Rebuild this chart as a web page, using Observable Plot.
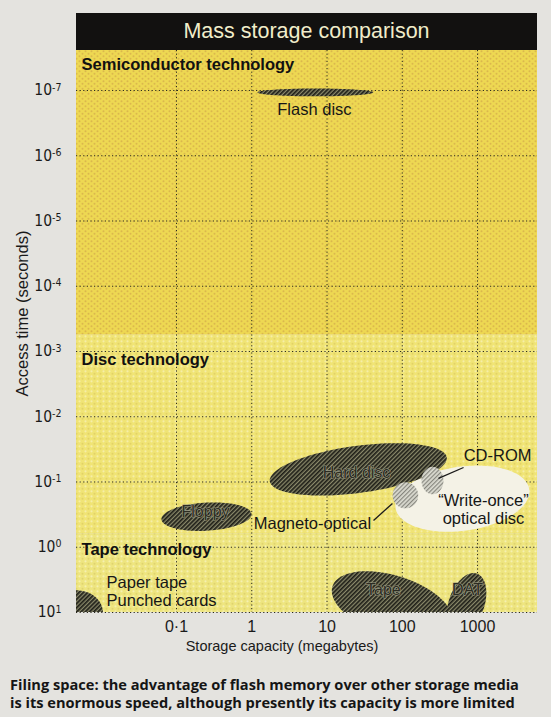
<!DOCTYPE html>
<html><head><meta charset="utf-8">
<script src="https://cdn.jsdelivr.net/npm/d3@7"></script>
<script src="https://cdn.jsdelivr.net/npm/@observablehq/plot@0.6"></script>
<style>
body{margin:0;background:#e4e3df;width:551px;height:717px;overflow:hidden;font-family:"Liberation Sans",Arial,sans-serif;}
#title{margin:13px 0 0 76px;width:461px;height:37px;background:#121110;color:#f1edca;font-size:21.5px;text-align:center;line-height:37px;}
#chart svg{display:block;}
#caption{margin:13px 0 0 10px;font-family:"Open Sans",sans-serif;font-weight:700;font-size:14.6px;line-height:18px;color:#151515;white-space:nowrap;}
</style></head>
<body>
<div id="title">Mass storage comparison</div>
<div id="chart"></div>
<div id="caption">Filing space: the advantage of flash memory over other storage media<br>is its enormous speed, although presently its capacity is more limited</div>
<script>
// ---- data ----
const capacityTicks = [0.1, 1, 10, 100, 1000];
const capacityTickLabels = ["0·1", "1", "10", "100", "1000"];
const timeTicks = [1e-7, 1e-6, 1e-5, 1e-4, 1e-3, 1e-2, 1e-1, 1e0, 1e1];
const timeTickLabels = ["10^-7", "10^-6", "10^-5", "10^-4", "10^-3", "10^-2", "10^-1", "10^0", "10^1"];

const bandNames = ["Semiconductor technology", "Disc technology", "Tape technology"];
const bandFast = [10 ** -7.613, 10 ** -3.25, 10 ** -0.2];
const bandSlow = [10 ** -3.25, 10 ** -0.2, 10];
const bandLabelAccess = [4.0e-8, 1.33e-3, 1.08];

const shapeNames = ["Write-once", "Hard disc", "Flash disc", "Floppy", "Tape", "DAT", "Paper tape", "CD-ROM", "Magneto-optical"];
const shapeCapacity = [630, 26, 7.0, 0.25, 74, 715, 0.0047, 252, 110];       // centre, MB
const shapeAccess = [0.18, 0.064, 1.07e-7, 0.34, 7.8, 7.3, 10, 0.095, 0.16]; // centre, s
const shapeCapSpan = [0.9, 1.19, 0.77, 0.60, 0.85, 0.24, 0.35, 0.146, 0.17]; // half-size, decades
const shapeTimeSpan = [0.49, 0.36, 0.06, 0.215, 0.45, 0.48, 0.34, 0.21, 0.2];
const shapeTilt = [10, 9, 0, 4, -22, -15, 0, 0, 0];                        // degrees
const shapeKind = ["white", "dark", "dark", "dark", "dark", "dark", "dark", "light", "light"];

const labelTexts = ["Flash disc", "CD-ROM", "“Write-once”\noptical disc", "Magneto-optical"];
const labelCapacity = [6.8, 1845, 1200, 6.4];
const labelAccess = [1.95e-7, 0.038, 0.259, 0.42];

const tapeNote = ["Paper tape\nPunched cards"];
const tapeNoteCapacity = [0.01175];
const tapeNoteAccess = [4.68];

const innerTexts = ["Hard disc", "Floppy", "Tape", "DAT"];
const innerCapacity = [24.7, 0.243, 56, 736];
const innerAccess = [0.0714, 0.283, 4.43, 4.43];

const pointerFromCap = [652, 41.5];
const pointerFromTime = [0.060, 0.389];
const pointerToCap = [303, 74];
const pointerToTime = [0.088, 0.213];

// ---- derived tables ----
const xDomain = [10 ** -2.329, 10 ** 3.797];
const yDomain = [10, 10 ** -7.613];
const bands = bandNames.map((name, i) => ({name, i, fast: bandFast[i], slow: bandSlow[i], label: bandLabelAccess[i]}));
const ellipsePts = [];
shapeNames.forEach((name, i) => {
  const cx = Math.log10(shapeCapacity[i]), cy = Math.log10(shapeAccess[i]);
  const a = shapeCapSpan[i], b = shapeTimeSpan[i], th = shapeTilt[i] * Math.PI / 180;
  for (let k = 0; k <= 90; k++) {
    const t = 2 * Math.PI * k / 90;
    const dx = a * Math.cos(t) * Math.cos(th) - b * Math.sin(t) * Math.sin(th);
    const dy = a * Math.cos(t) * Math.sin(th) + b * Math.sin(t) * Math.cos(th);
    ellipsePts.push({name, kind: shapeKind[i], cap: 10 ** (cx + dx), time: 10 ** (cy - dy)});
  }
});
const labels = labelTexts.map((t, i) => ({t, cap: labelCapacity[i], time: labelAccess[i]}));
const notes = tapeNote.map((t, i) => ({t, cap: tapeNoteCapacity[i], time: tapeNoteAccess[i]}));
const inner = innerTexts.map((t, i) => ({t, cap: innerCapacity[i], time: innerAccess[i]}));
const pointers = pointerFromCap.map((c, i) => ({x1: c, y1: pointerFromTime[i], x2: pointerToCap[i], y2: pointerToTime[i]}));
const capLabel = new Map(capacityTicks.map((d, i) => [d, capacityTickLabels[i]]));
const timeLabel = new Map(timeTicks.map((d, i) => [d, timeTickLabels[i]]));
const bandFill = ["url(#bandSemi)", "url(#bandDisc)", "url(#bandTape)"];
const kindFill = {white: "#f4f2e6", dark: "url(#hatchDark)", light: "url(#hatchLight)"};

const svg = Plot.plot({
  width: 551, height: 612,
  marginTop: 0, marginBottom: 50, marginLeft: 76, marginRight: 14,
  style: {background: "transparent", fontFamily: "Liberation Sans, Arial, sans-serif", color: "#1a1a1a", overflow: "visible"},
  x: {type: "log", domain: xDomain},
  y: {type: "log", domain: yDomain},
  marks: [
    Plot.rect(bands, {x1: xDomain[0], x2: xDomain[1], y1: "fast", y2: "slow", fill: d => bandFill[d.i]}),
    Plot.ruleX(capacityTicks, {stroke: "#2a2a1e", strokeWidth: 1, strokeDasharray: "1.2,2.4"}),
    Plot.ruleY(timeTicks, {stroke: "#2a2a1e", strokeWidth: 1, strokeDasharray: "1.2,2.4"}),
    Plot.line(ellipsePts.filter(d => d.kind === "white"), {x: "cap", y: "time", z: "name", fill: kindFill.white, stroke: "none", clip: true}),
    Plot.line(ellipsePts.filter(d => d.kind === "dark"), {x: "cap", y: "time", z: "name", fill: kindFill.dark, stroke: "none", clip: true}),
    Plot.line(ellipsePts.filter(d => d.kind === "light"), {x: "cap", y: "time", z: "name", fill: kindFill.light, stroke: "none", clip: true}),
    Plot.link(pointers, {x1: "x1", y1: "y1", x2: "x2", y2: "y2", stroke: "#1a1a1a", strokeWidth: 1.3}),
    Plot.text(bands, {x: 0.00547, y: "label", text: "name", textAnchor: "start", fontSize: 16.5, fontWeight: "bold", fill: "#111"}),
    Plot.text(labels, {x: "cap", y: "time", text: "t", textAnchor: "middle", fontSize: 16.5, lineHeight: 1.12, fill: "#161616"}),
    Plot.text(notes, {x: "cap", y: "time", text: "t", textAnchor: "start", fontSize: 16.5, lineHeight: 1.1, fill: "#161616"}),
    Plot.text(inner, {x: "cap", y: "time", text: "t", fontSize: 16, fill: "#2c2c22", stroke: "#9c9c84", strokeWidth: 1.2}),
    Plot.axisX(capacityTicks, {tickSize: 0, tickPadding: 8, tickFormat: d => capLabel.get(d), fontSize: 16, label: null, fill: "#1a1a1a"}),
    Plot.axisY(timeTicks, {tickSize: 0, tickPadding: 15, tickFormat: d => timeLabel.get(d), fontSize: 15.5, label: null, fill: "#1a1a1a"}),
    Plot.text(["Access time (seconds)"], {x: xDomain[0], y: 10 ** -3.582, dx: -54, rotate: -90, fontSize: 16.5, fill: "#1a1a1a"}),
    Plot.text(["Storage capacity (megabytes)"], {frameAnchor: "bottom", dx: -25, dy: 38, fontSize: 14.5, fill: "#1a1a1a"})
  ]
});

const ns = "http://www.w3.org/2000/svg";
const defs = document.createElementNS(ns, "defs");
defs.innerHTML = `
<pattern id="hatchDark" width="3" height="3" patternUnits="userSpaceOnUse" patternTransform="rotate(45)">
  <rect width="3" height="3" fill="#8a896a"/><rect width="1.7" height="3" fill="#1f1f18"/>
</pattern>
<pattern id="hatchLight" width="3" height="3" patternUnits="userSpaceOnUse" patternTransform="rotate(45)">
  <rect width="3" height="3" fill="#dcdcd2"/><rect width="1.2" height="3" fill="#86867e"/>
</pattern>
<pattern id="bandSemi" width="6" height="5" patternUnits="userSpaceOnUse">
  <rect width="6" height="5" fill="#eed852"/><circle cx="1.5" cy="1.3" r="1" fill="#dbb84c"/><circle cx="4.5" cy="3.8" r="1" fill="#dbb84c"/>
</pattern>
<pattern id="bandDisc" width="6" height="5" patternUnits="userSpaceOnUse">
  <rect width="6" height="5" fill="#f0e475"/><circle cx="1.5" cy="1.3" r="1.1" fill="#f6eea8"/><circle cx="4.5" cy="3.8" r="1" fill="#e3d266"/>
</pattern>
<pattern id="bandTape" width="6" height="5" patternUnits="userSpaceOnUse">
  <rect width="6" height="5" fill="#eee57f"/><circle cx="1.5" cy="1.3" r="1.1" fill="#f6f0b0"/><circle cx="4.5" cy="3.8" r="1" fill="#e0d36e"/>
</pattern>`;
svg.insertBefore(defs, svg.firstChild);

// superscript exponents on the access-time tick labels
svg.querySelectorAll("text").forEach(t => {
  if (t.textContent.includes("^")) {
    const [base, exp] = t.textContent.split("^");
    t.textContent = base;
    t.setAttribute("font-family", "Liberation Sans Narrow, DejaVu Sans Condensed, Liberation Sans, sans-serif");
    const ts = document.createElementNS(ns, "tspan");
    ts.setAttribute("dy", "-0.45em");
    ts.setAttribute("font-size", "10.5");
    ts.textContent = exp;
    t.appendChild(ts);
  }
});
document.getElementById("chart").appendChild(svg);
</script>
</body></html>
